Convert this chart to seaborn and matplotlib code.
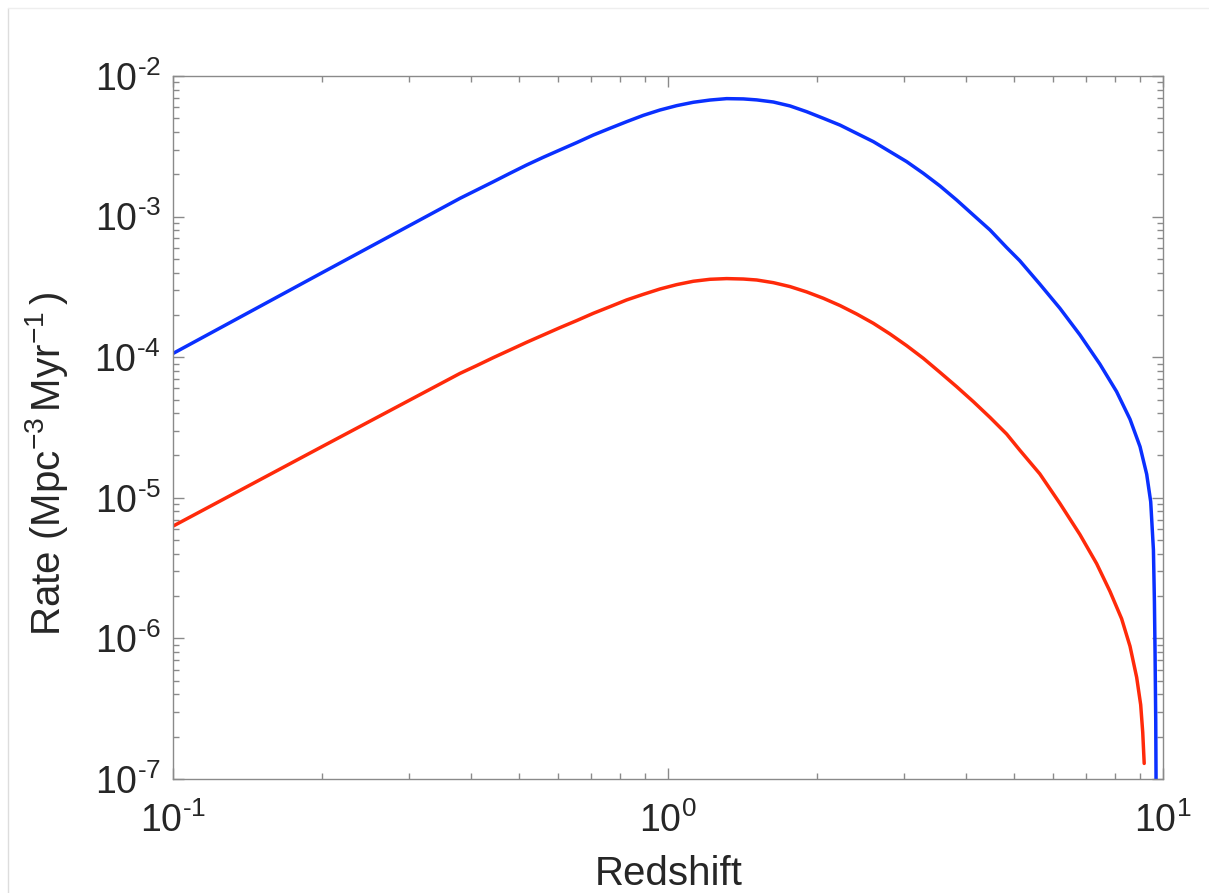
import numpy as np
import pandas as pd
import seaborn as sns
import matplotlib.pyplot as plt
from matplotlib.lines import Line2D
from matplotlib.ticker import LogLocator, NullFormatter

# values (redshift, rate)
blue_z = [0.1, 0.1995, 0.3796, 0.4102, 0.4433, 0.4789, 0.5176, 0.5594, 0.6044, 0.6532,
          0.7059, 0.7628, 0.8244, 0.8909, 0.9629, 1.0406, 1.1246, 1.2153, 1.3133, 1.4192,
          1.5106, 1.6324, 1.764, 1.9064, 2.0603, 2.2263, 2.406, 2.6002, 2.81, 3.036,
          3.281, 3.5457, 3.8318, 4.141, 4.4751, 4.8362, 5.1417, 5.6429, 6.1966, 6.8013,
          7.4645, 8.0686, 8.5885, 8.9987, 9.2822, 9.457, 9.5775, 9.6217, 9.6506, 9.6817,
          9.6951, 9.6995]
blue_rate = [1.067e-4, 3.98e-4, 1.349e-3, 1.545e-3, 1.770e-3, 2.032e-3, 2.328e-3, 2.642e-3, 2.979e-3, 3.357e-3,
             3.802e-3, 4.246e-3, 4.732e-3, 5.248e-3, 5.728e-3, 6.152e-3, 6.501e-3, 6.745e-3, 6.902e-3, 6.871e-3,
             6.761e-3, 6.531e-3, 6.124e-3, 5.572e-3, 5.000e-3, 4.477e-3, 3.908e-3, 3.412e-3, 2.897e-3, 2.460e-3,
             2.032e-3, 1.652e-3, 1.312e-3, 1.026e-3, 8.035e-4, 6.026e-4, 4.853e-4, 3.311e-4, 2.228e-4, 1.442e-4,
             8.93e-5, 5.69e-5, 3.62e-5, 2.31e-5, 1.47e-5, 9.37e-6, 4.26e-6, 1.83e-6, 7.85e-7, 2.54e-7,
             1.0e-7, 3.2e-8]

red_z = [0.1, 0.1995, 0.3796, 0.4102, 0.4433, 0.4789, 0.5176, 0.5594, 0.6044, 0.6532,
         0.7059, 0.7628, 0.8244, 0.8909, 0.9629, 1.0406, 1.1246, 1.2153, 1.3133, 1.4192,
         1.5106, 1.6324, 1.764, 1.9064, 2.0603, 2.2263, 2.406, 2.6002, 2.81, 3.036,
         3.281, 3.5457, 3.8318, 4.141, 4.4751, 4.8362, 5.1417, 5.6429, 6.1966, 6.8013,
         7.353, 7.823, 8.259, 8.5885, 8.859, 9.026, 9.112, 9.175]
red_rate = [6.31e-6, 2.307e-5, 7.67e-5, 8.71e-5, 9.93e-5, 1.125e-4, 1.276e-4, 1.439e-4, 1.622e-4, 1.820e-4,
            2.051e-4, 2.286e-4, 2.553e-4, 2.799e-4, 3.055e-4, 3.281e-4, 3.467e-4, 3.581e-4, 3.622e-4, 3.597e-4,
            3.540e-4, 3.388e-4, 3.177e-4, 2.911e-4, 2.624e-4, 2.328e-4, 2.028e-4, 1.742e-4, 1.462e-4, 1.208e-4,
            9.82e-5, 7.80e-5, 6.17e-5, 4.83e-5, 3.73e-5, 2.84e-5, 2.18e-5, 1.48e-5, 9.12e-6, 5.48e-6,
            3.40e-6, 2.16e-6, 1.38e-6, 8.79e-7, 5.28e-7, 3.37e-7, 2.15e-7, 1.29e-7]

x_ticks = [0.1, 1, 10]
x_ticklabels = [r'$10^{\text{-}1}$', r'$10^{0}$', r'$10^{1}$']
y_ticks = [1e-7, 1e-6, 1e-5, 1e-4, 1e-3, 1e-2]
y_ticklabels = [r'$10^{\text{-}7}$', r'$10^{\text{-}6}$', r'$10^{\text{-}5}$',
                r'$10^{\text{-}4}$', r'$10^{\text{-}3}$', r'$10^{\text{-}2}$']

sns.set_style("ticks")
plt.rcParams['font.family'] = ['Liberation Sans', 'DejaVu Sans']
plt.rcParams['mathtext.fontset'] = 'custom'
plt.rcParams['mathtext.rm'] = 'Liberation Sans'
plt.rcParams['mathtext.it'] = 'Liberation Sans:italic'
plt.rcParams['mathtext.default'] = 'regular'

df_blue = pd.DataFrame({'Redshift': blue_z, 'Rate': blue_rate})
df_red = pd.DataFrame({'Redshift': red_z, 'Rate': red_rate})

txt = '#262626'
axc = '#8a8a8a'

fig = plt.figure(figsize=(12.09, 8.93), dpi=100)
ax = fig.add_axes([0.1435, 0.1277, 0.8182, 0.7872])
ax.set_xscale('log')
ax.set_yscale('log')

sns.lineplot(data=df_blue, x='Redshift', y='Rate', color='#0a30ff', lw=2.5, sort=False, ax=ax)
sns.lineplot(data=df_red, x='Redshift', y='Rate', color='#ff2a0a', lw=2.5, sort=False, ax=ax)

ax.set_xlim(0.1, 10)
ax.set_ylim(1e-7, 1e-2)
ax.set_xticks(x_ticks, x_ticklabels)
ax.set_yticks(y_ticks, y_ticklabels)
ax.xaxis.set_minor_locator(LogLocator(base=10, subs=np.arange(2, 10)))
ax.yaxis.set_minor_locator(LogLocator(base=10, subs=np.arange(2, 10)))
ax.xaxis.set_minor_formatter(NullFormatter())
ax.yaxis.set_minor_formatter(NullFormatter())

ax.tick_params(which='both', direction='in', top=True, right=True, color=axc, width=1.0,
               labelsize=27, labelcolor=txt)
ax.tick_params(which='major', length=8)
ax.tick_params(which='minor', length=4.5)
ax.tick_params(axis='x', pad=17)
ax.tick_params(axis='y', pad=9)
for s in ax.spines.values():
    s.set_color(axc)
    s.set_linewidth(1.0)

ax.set_xlabel('Redshift', fontsize=29, color=txt)
ax.set_ylabel(r'Rate (Mpc$^{-3}$$\,$Myr$^{-1}$$\,$)', fontsize=29, color=txt)
ax.xaxis.label.set_va('baseline')
ax.yaxis.label.set_va('baseline')
ax.xaxis.set_label_coords(0.501, -0.1508)
ax.yaxis.set_label_coords(-0.1147, 0.448)

# faint frame of the original screenshot
fig.add_artist(Line2D([8 / 1209, 8 / 1209], [0, 1 - 8 / 893], transform=fig.transFigure, color='#dddddd', lw=1))
fig.add_artist(Line2D([8 / 1209, 1], [1 - 8 / 893, 1 - 8 / 893], transform=fig.transFigure, color='#eeeeee', lw=1))

fig.savefig('out.png', dpi=100, facecolor='white')
